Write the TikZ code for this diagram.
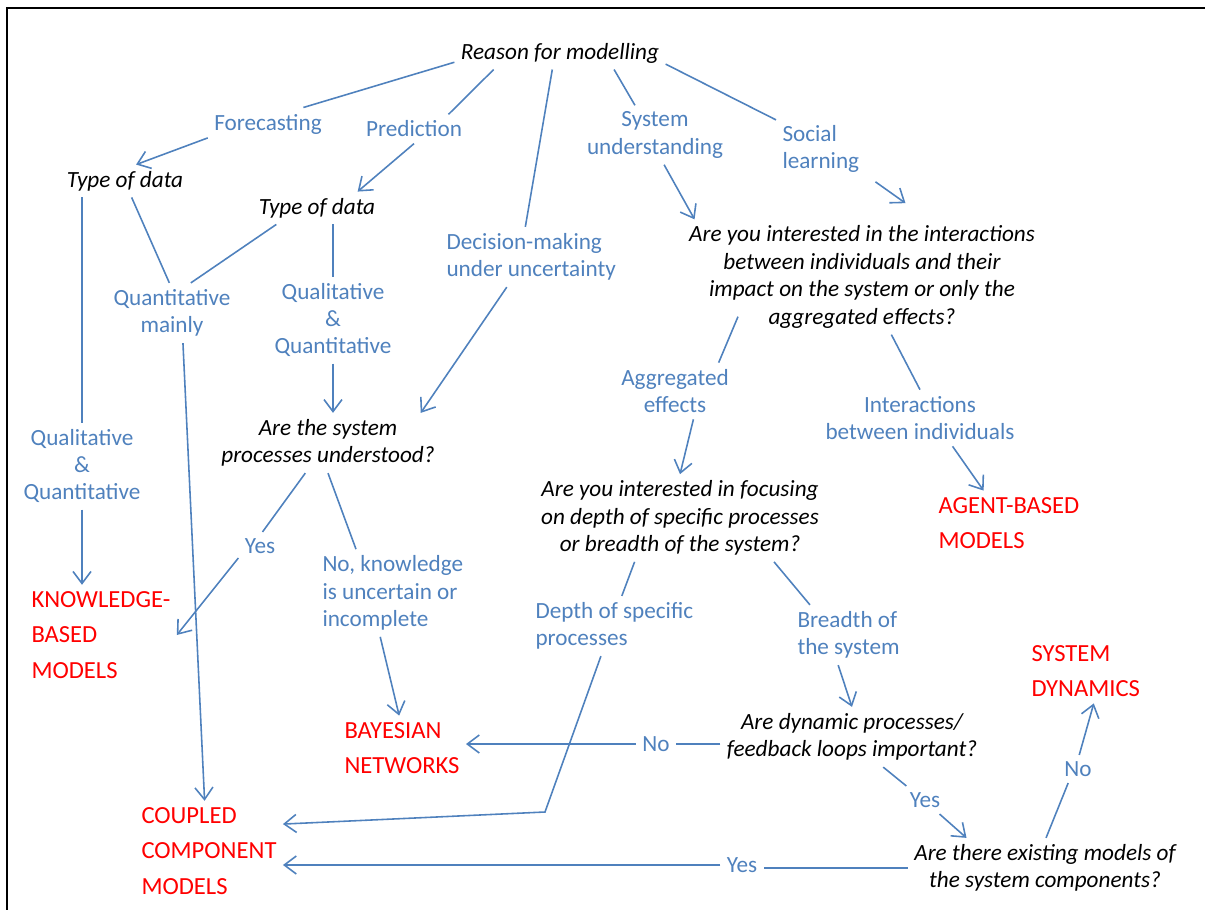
\documentclass[tikz,border=0pt]{standalone}
\usepackage{fontspec}
\setmainfont{Carlito}
\usetikzlibrary{arrows.meta}
\definecolor{lblue}{RGB}{79,129,189}
\definecolor{mred}{RGB}{255,0,0}
\begin{document}
\begin{tikzpicture}[x=0.02cm, y=-0.02cm,
  q/.style={font=\fontsize{13.2}{15.6}\selectfont\itshape, align=center, inner sep=3.5pt},
  lab/.style={font=\fontsize{13.2}{15.6}\selectfont, text=lblue, align=center, inner sep=3.5pt},
  res/.style={font=\fontsize{14}{20.3}\selectfont, text=mred, align=left, inner sep=3.5pt, anchor=west},
  ln/.style={draw=lblue, line width=0.9pt},
  arr/.style={ln, -{Straight Barb[length=2.4mm,width=3.6mm]}}]
\useasboundingbox (0,0) rectangle (1205,910);
\draw[line width=1.2pt] (7,910) -- (7,8) -- (1205,8);
\node (reason)[q] at (560,53) {Reason for modelling};
\node (fore)[lab] at (268,124) {Forecasting};
\node (pred)[lab] at (414,129) {Prediction};
\node (sysu)[lab] at (655,135) {System\\understanding};
\node (social)[lab, align=left, anchor=west] at (776,149) {Social\\learning};
\node (dec)[lab, align=left, anchor=west] at (440,257) {Decision-making\\under uncertainty};
\node (tod1)[q] at (125,181) {Type of data};
\node (tod2)[q] at (317,208) {Type of data};
\node (qm)[lab] at (172,313) {Quantitative\\mainly};
\node (qq2)[lab] at (333,320) {Qualitative\\\&\\Quantitative};
\node (qq1)[lab] at (82,466) {Qualitative\\\&\\Quantitative};
\node (sysp)[q] at (328,443) {Are the system\\processes understood?};
\node (inter)[q] at (862,277) {Are you interested in the interactions\\between individuals and their\\impact on the system or only the\\aggregated effects?};
\node (agg)[lab] at (675,391) {Aggregated\\effects};
\node (intind)[lab] at (920,418) {Interactions\\between individuals};
\node (abm)[res] at (932,523) {AGENT-BASED\\MODELS};
\node (focus)[q] at (680,518) {Are you interested in focusing\\on depth of specific processes\\or breadth of the system?};
\node (depth)[lab, align=left, anchor=west] at (529,626) {Depth of specific\\processes};
\node (breadth)[lab, align=left, anchor=west] at (791,635) {Breadth of\\the system};
\node (nok)[lab, align=left, anchor=west] at (316,593) {No, knowledge\\is uncertain or\\incomplete};
\node (yes1)[lab] at (260,546) {Yes};
\node (kbm)[res] at (25,635) {KNOWLEDGE-\\BASED\\MODELS};
\node (bayes)[res] at (338,748) {BAYESIAN\\NETWORKS};
\node (coupled)[res] at (135,851) {COUPLED\\COMPONENT\\MODELS};
\node (sd)[res] at (1025,671) {SYSTEM\\DYNAMICS};
\node (dyn)[q] at (852,737) {Are dynamic processes/\\feedback loops important?};
\node (no1)[lab] at (656,744) {No};
\node (yes2)[lab] at (925,800) {Yes};
\node (exist)[q] at (1045,868) {Are there existing models of\\the system components?};
\node (no2)[lab] at (1078,769) {No};
\node (yes3)[lab] at (742,865) {Yes};
\coordinate (bend) at (545,812);
\draw[ln] (reason.185) -- (fore.25);
\draw[arr] (fore.193) -- (tod1.56);
\draw[ln] (reason.194) -- (pred.23);
\draw[arr] (pred.south) -- (tod2.22);
\draw[ln] (reason.245) -- (dec.101);
\draw[ln] (reason.343) -- (sysu.124);
\draw[ln] (reason.354) -- (social.147);
\draw[arr] (sysu.287) -- (inter.161);
\draw[arr, shorten <=0.24cm, shorten >=0.56cm] (social.330) -- (inter.41);
\draw[ln] (qq1.north |- tod1.south) -- (qq1.north);
\draw[ln] (tod1.292) -- (qm.95);
\draw[ln] (tod2.202) -- (qm.58);
\draw[ln] (qq2.north |- tod2.south) -- (qq2.north);
\draw[arr] (qq1.south) -- (qq1.south |- kbm.north);
\draw[arr] (qm.290) -- (coupled.95);
\draw[arr] (qq2.south) -- (qq2.south |- sysp.north);
\draw[arr] (dec.231) -- (sysp.18);
\draw[ln] (sysp.233) -- (yes1.80);
\draw[arr] (yes1.209) -- (kbm.east);
\draw[ln] (sysp.south) -- (nok.130);
\draw[arr] (nok.254) -- (bayes.95);
\draw[ln] ([shift={(-124,-18)}]inter.south) -- (agg.33);
\draw[ln] (inter.297) -- (intind.north);
\draw[arr] (agg.303) -- (focus.north);
\draw[arr] (intind.319) -- (abm.128);
\draw[ln] (focus.224) -- (depth.76);
\draw[ln] (focus.335) -- (breadth.142);
\draw[arr] (breadth.251) -- (dyn.north);
\draw[arr] (depth.246) -- (bend) -- (coupled.20);
\draw[ln] (no1.east -| dyn.west) -- (no1.east);
\draw[arr] (no1.west) -- (no1.west -| bayes.east);
\draw[ln] (dyn.316) -- (yes2.143);
\draw[arr] (yes2.316) -- (exist.159);
\draw[ln] (exist.88) -- (no2.235);
\draw[arr] (no2.85) -- (sd.284);
\draw[ln] (exist.west) -- (exist.west -| yes3.east);
\draw[arr] (yes3.west) -- (yes3.west -| coupled.east);
\end{tikzpicture}
\end{document}
